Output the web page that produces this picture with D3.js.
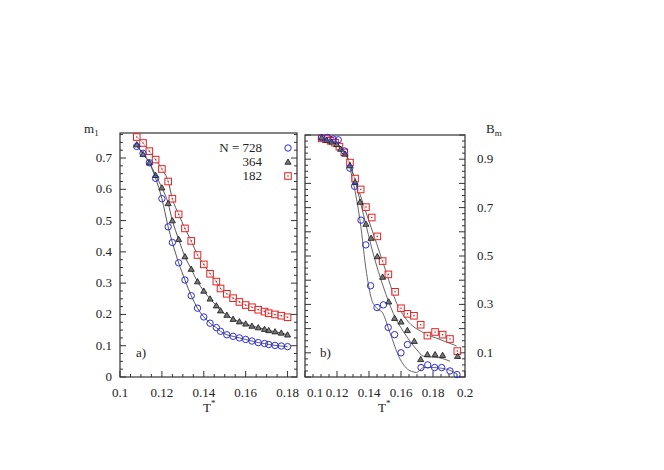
<!DOCTYPE html>
<html><head><meta charset="utf-8">
<script src="https://cdn.jsdelivr.net/npm/d3@7"></script>
<style>body{margin:0;background:#fff}text{font-family:"Liberation Serif","Times New Roman",Times,serif;font-size:13px;fill:#222}</style>
</head><body><svg id="c" width="664" height="470"></svg>
<script>
// Panel a) data: m1 vs T*
var xA = [0.108,0.111,0.114,0.117,0.120,0.123,0.125,0.128,0.131,0.134,0.137,0.140,0.143,0.146,0.148,0.151,0.154,0.157,0.160,0.163,0.166,0.169,0.171,0.174,0.177,0.180];
var a728 = [0.737,0.715,0.685,0.635,0.57,0.48,0.43,0.365,0.31,0.26,0.22,0.192,0.172,0.158,0.146,0.135,0.130,0.125,0.120,0.115,0.110,0.107,0.104,0.101,0.099,0.097];
var a364 = [0.743,0.712,0.685,0.645,0.605,0.555,0.50,0.44,0.385,0.345,0.305,0.275,0.250,0.228,0.212,0.198,0.185,0.177,0.170,0.163,0.158,0.153,0.149,0.145,0.141,0.135];
var a182 = [0.767,0.748,0.722,0.695,0.665,0.625,0.57,0.52,0.475,0.435,0.39,0.36,0.33,0.305,0.283,0.266,0.252,0.24,0.23,0.223,0.215,0.209,0.204,0.2,0.196,0.191];

// Panel b) data: Bm vs T*
var xB728 = [.1104,.114,.1177,.1208,.1246,.128,.131,.135,.138,.141,.145,.149,.152,.156,.160,.164,.1725,.1767,.181,.1854,.1906,.195];
var b728 = [.989,.99,.983,.98,.934,.863,.788,.648,.546,.377,.287,.298,.205,.175,.1,.134,.039,.05,.039,.039,.025,.01];
var xB364 = [.1104,.1135,.1167,.1198,.1223,.1250,.1281,.1313,.1344,.1381,.1413,.1452,.1485,.1523,.1560,.1600,.1640,.1683,.1723,.1765,.1813,.1860,.1954];
var b364 = [.989,.979,.972,.961,.942,.922,.874,.805,.723,.632,.574,.498,.413,.311,.243,.228,.193,.148,.073,.093,.093,.09,.086];
var xB182 = [.1104,.1131,.116,.1188,.1215,.1246,.1281,.1313,.1348,.1381,.1417,.1452,.1485,.1521,.1563,.16,.164,.1681,.1723,.1765,.1813,.186,.1906,.1952];
var b182 = [.986,.983,.976,.968,.952,.928,.886,.82,.775,.702,.659,.581,.479,.424,.352,.284,.261,.253,.216,.171,.186,.175,.157,.107];
// fitted curves in panel b)
var fit728x = [.1104,.124,.130,.1344,.1385,.1417,.1448,.1485,.1531,.1594,.1656,.1698,.174,.180,.1885,.1952];
var fit728y = [.989,.939,.809,.646,.428,.319,.285,.265,.183,.074,.026,.019,.039,.039,.032,.012];
var fit364x = [.1104,.124,.1313,.1365,.1427,.149,.1552,.1635,.1698,.174,.1844,.1906];
var fit364y = [.989,.939,.809,.672,.508,.372,.263,.168,.113,.086,.079,.065];
var fit182x = [.1104,.124,.1323,.1385,.1448,.151,.1573,.1635,.174,.1844,.1948];
var fit182y = [.989,.939,.796,.673,.551,.428,.305,.237,.183,.155,.128];

var ticksA = [0.1,0.12,0.14,0.16,0.18];
var ticksB = [0.1,0.12,0.14,0.16,0.18,0.2];
var yTicksA = [0,0.1,0.2,0.3,0.4,0.5,0.6,0.7];
var yTicksB = [0.1,0.3,0.5,0.7,0.9];
var legendN = ["N = 728","364","182"];

var svg = d3.select("#c");
var blue = "#2b2bdd", red = "#e52222";

var xa = d3.scaleLinear().domain([0.1,0.1845]).range([120,297]);
var ya = d3.scaleLinear().domain([0,0.78]).range([377,133]);
var xb = d3.scaleLinear().domain([0.1,0.2]).range([305,465]);
var yb = d3.scaleLinear().domain([0,1]).range([377,135]);

function frame(x, y, ticks, yt, leftLabels, shift) {
  var g = svg.append("g");
  var x0 = x.range()[0], x1 = x.range()[1], y0 = y.range()[0], y1 = y.range()[1];
  g.append("rect").attr("x",x0).attr("y",y1).attr("width",x1-x0).attr("height",y0-y1)
    .attr("fill","none").attr("stroke","#333").attr("stroke-width",1.2);
  var step = 0.02, d = x.domain();
  for (var v = d[0]; v <= d[1]+1e-9; v += step/4) {
    var major = Math.abs(Math.round(v/step)*step - v) < 1e-6;
    var L = major ? 6 : 3;
    g.append("line").attr("x1",x(v)).attr("x2",x(v)).attr("y1",y0).attr("y2",y0-L).attr("stroke","#333");
  }
  ticks.forEach(function(t,i){
    g.append("text").attr("x",x(t)+(i===0?shift:0)).attr("y",y0+20).attr("text-anchor","middle").text(t);
  });
  var yd = y.domain();
  for (var w = 0; w <= yd[1]+1e-9; w += 0.025) {
    var maj = Math.abs(Math.round(w/0.1)*0.1 - w) < 1e-6;
    var L2 = maj ? 6 : 3;
    g.append("line").attr("x1",x0).attr("x2",x0+L2).attr("y1",y(w)).attr("y2",y(w)).attr("stroke","#333");
    g.append("line").attr("x1",x1).attr("x2",x1-L2).attr("y1",y(w)).attr("y2",y(w)).attr("stroke","#333");
  }
  yt.forEach(function(t){
    if (leftLabels) g.append("text").attr("x",x0-8).attr("y",y(t)+4).attr("text-anchor","end").text(t);
    else g.append("text").attr("x",x1+12).attr("y",y(t)+4).attr("text-anchor","start").text(t);
  });
}
frame(xa, ya, ticksA, yTicksA, true, 0);
frame(xb, yb, ticksB, yTicksB, false, 10);

var line = function(x, y){ return d3.line().x(function(d){return x(d[0]);}).y(function(d){return y(d[1]);}).curve(d3.curveMonotoneX); };
function zip(a,b){ return a.map(function(v,i){return [v,b[i]];}); }

[a728,a364,a182].forEach(function(s){
  svg.append("path").attr("d", line(xa,ya)(zip(xA,s))).attr("fill","none").attr("stroke","#444").attr("stroke-width",0.9);
});
[[fit728x,fit728y],[fit364x,fit364y],[fit182x,fit182y]].forEach(function(s){
  svg.append("path").attr("d", line(xb,yb)(zip(s[0],s[1]))).attr("fill","none").attr("stroke","#555").attr("stroke-width",0.9);
});

function circles(pts, x, y) {
  svg.append("g").selectAll("circle").data(pts).join("circle")
    .attr("cx",function(d){return x(d[0]);}).attr("cy",function(d){return y(d[1]);})
    .attr("r",3.2).attr("fill","none").attr("stroke",blue).attr("stroke-width",1);
}
function tris(pts, x, y) {
  svg.append("g").selectAll("path").data(pts).join("path")
    .attr("d", d3.symbol(d3.symbolTriangle, 16)())
    .attr("transform",function(d){return "translate("+x(d[0])+","+(y(d[1])+0.5)+")";})
    .attr("fill","#777").attr("stroke","#111").attr("stroke-width",0.8);
}
function squares(pts, x, y) {
  var g = svg.append("g");
  g.selectAll("rect").data(pts).join("rect")
    .attr("x",function(d){return x(d[0])-3.3;}).attr("y",function(d){return y(d[1])-3.3;})
    .attr("width",6.6).attr("height",6.6).attr("fill","#fff").attr("fill-opacity",0.6).attr("stroke",red).attr("stroke-width",1);
  g.selectAll("circle").data(pts).join("circle")
    .attr("cx",function(d){return x(d[0]);}).attr("cy",function(d){return y(d[1]);}).attr("r",0.8).attr("fill",red);
}
squares(zip(xA,a182), xa, ya); tris(zip(xA,a364), xa, ya); circles(zip(xA,a728), xa, ya);
squares(zip(xB182,b182), xb, yb); tris(zip(xB364,b364), xb, yb); circles(zip(xB728,b728), xb, yb);

var ly = [148,162,176];
legendN.forEach(function(t,i){
  svg.append("text").attr("x",262).attr("y",ly[i]+4).attr("text-anchor","end").text(t);
});
circles([[0,0]], function(){return 288;}, function(){return ly[0];});
tris([[0,0]], function(){return 288;}, function(){return ly[1];});
squares([[0,0]], function(){return 288;}, function(){return ly[2];});

var m = svg.append("text").attr("x",84).attr("y",133);
m.append("tspan").text("m");
m.append("tspan").attr("dy",3).attr("font-size",9).text("1");
var b = svg.append("text").attr("x",486).attr("y",133);
b.append("tspan").text("B");
b.append("tspan").attr("dy",3).attr("font-size",9).text("m");
[203,378].forEach(function(px){
  var t = svg.append("text").attr("x",px).attr("y",412);
  t.append("tspan").text("T");
  t.append("tspan").attr("dy",-6).attr("font-size",9).text("*");
});
svg.append("text").attr("x",136).attr("y",357).text("a)");
svg.append("text").attr("x",320).attr("y",357).text("b)");
</script></body></html>
